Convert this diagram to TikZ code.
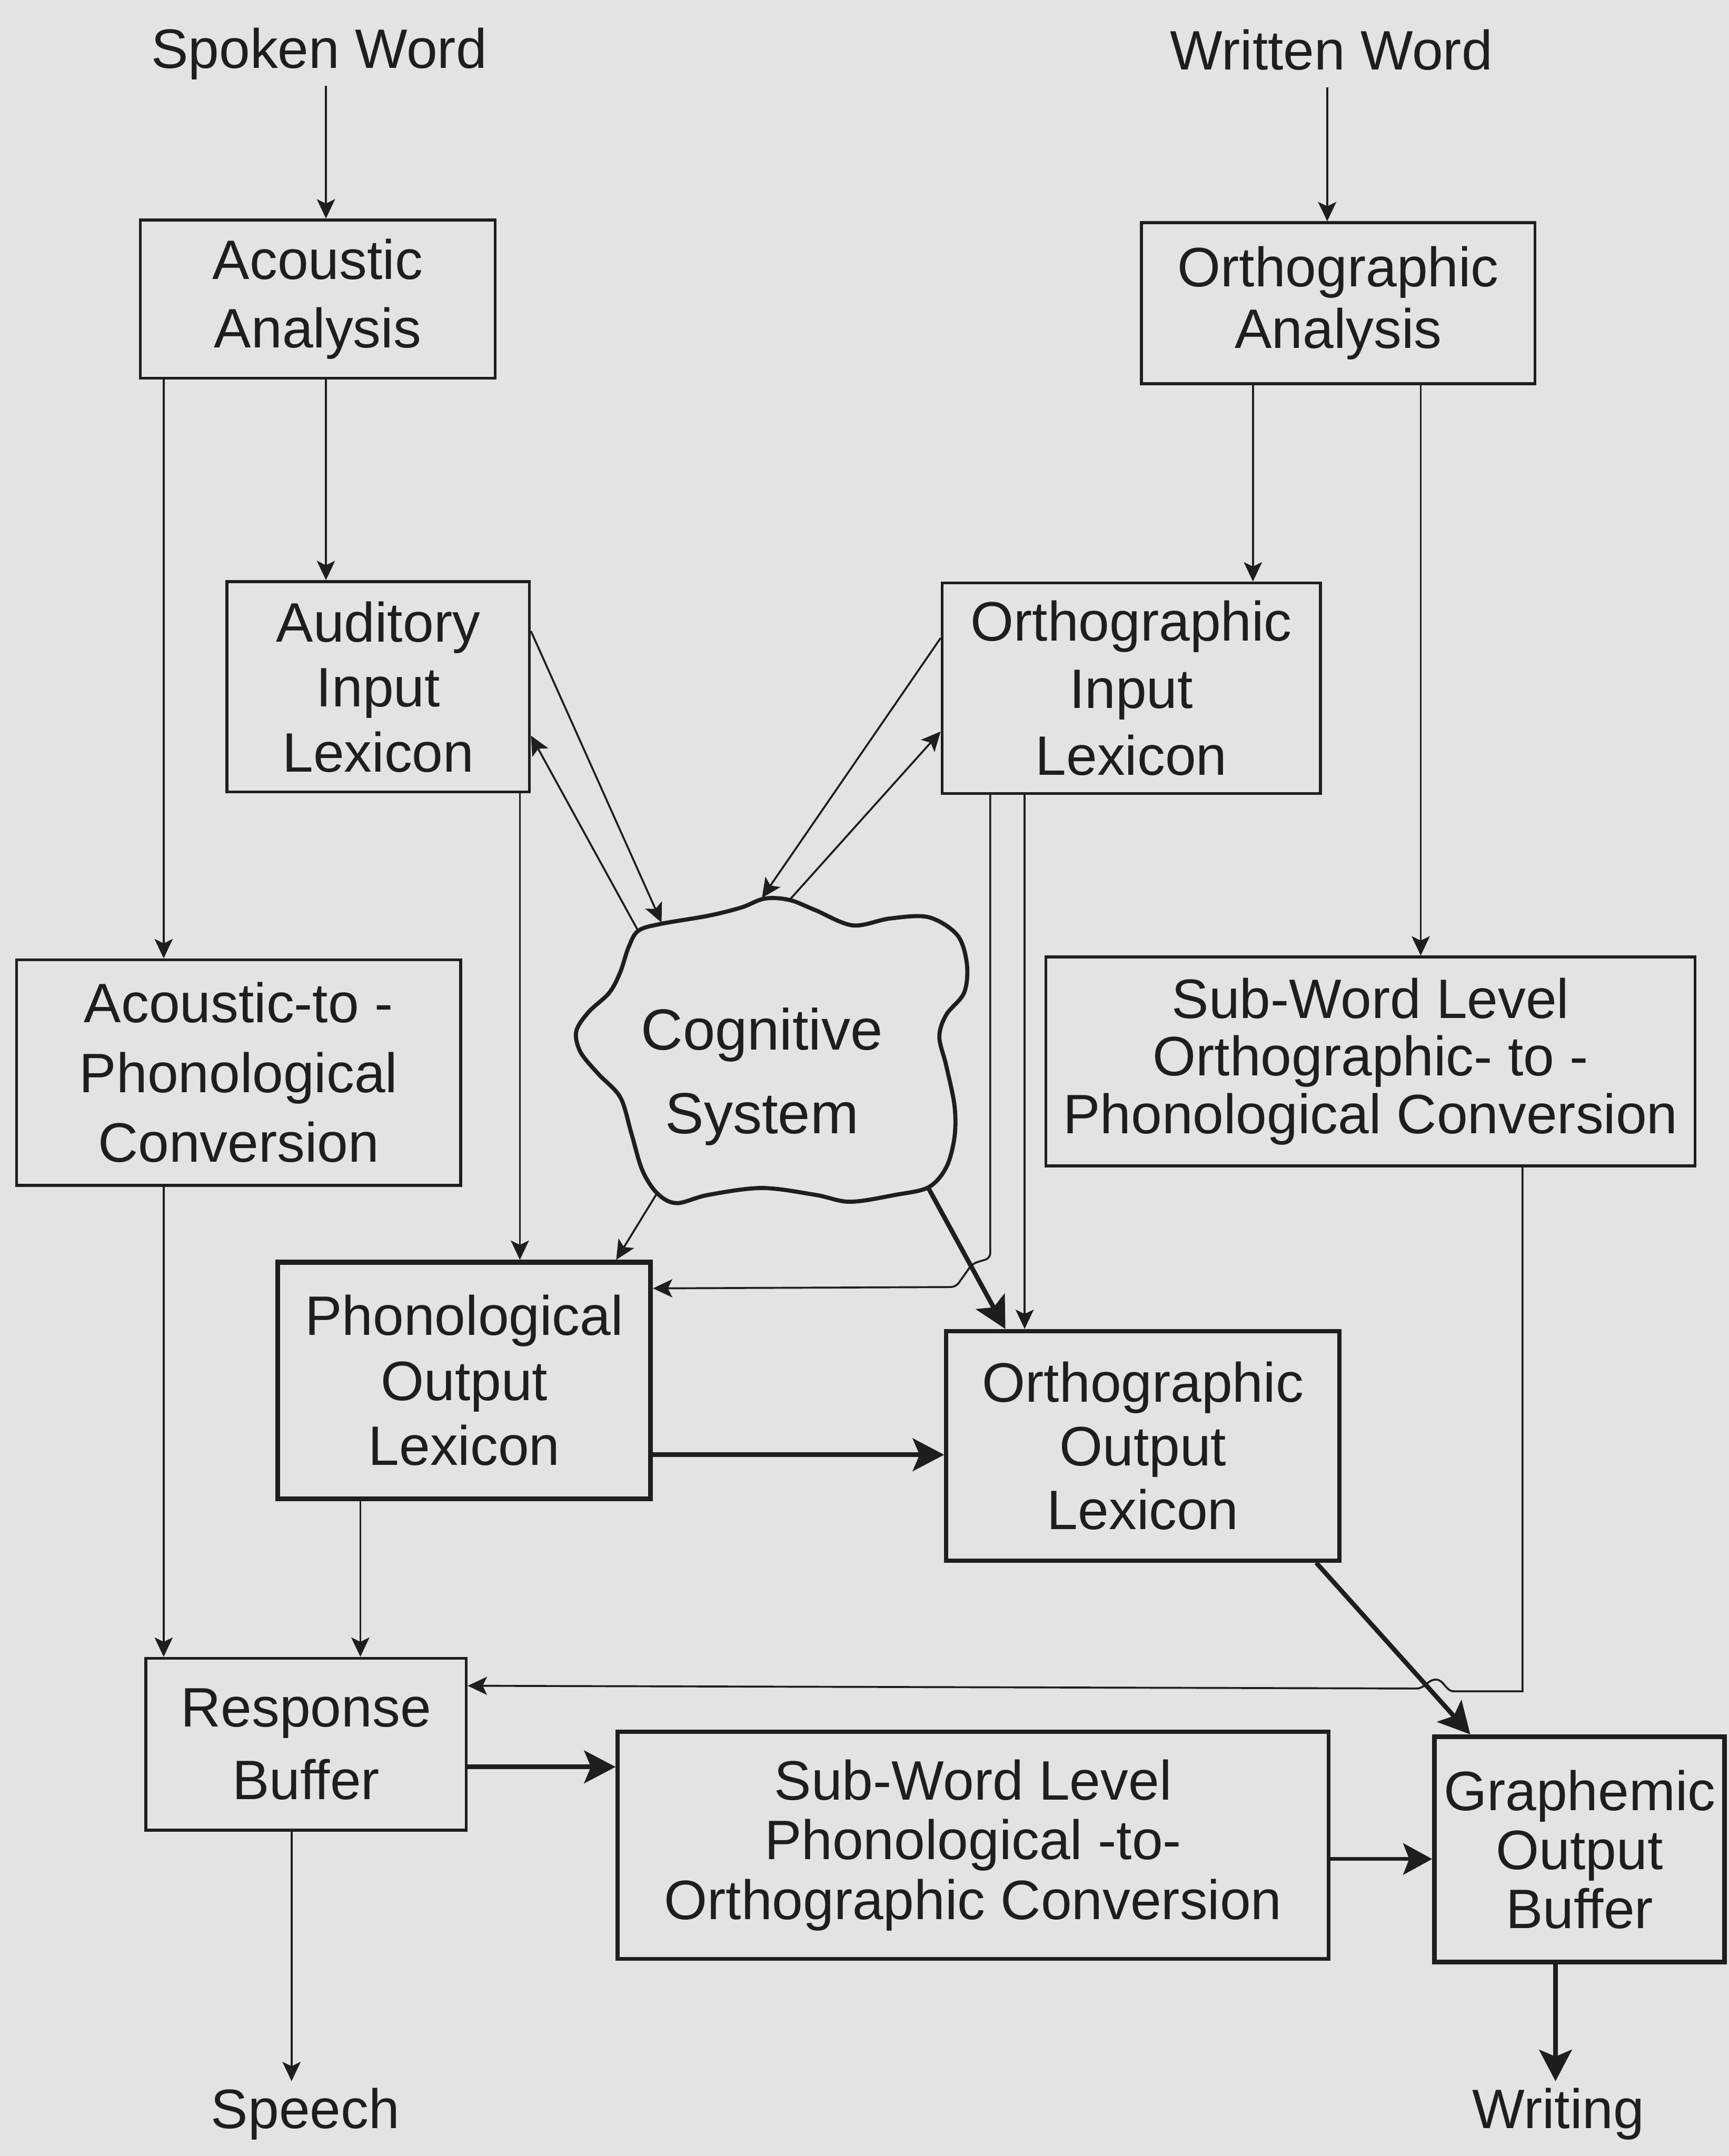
\documentclass[tikz,border=0pt]{standalone}
\usepackage{fontspec}
\setmainfont{Liberation Sans}
\usetikzlibrary{arrows.meta}

\definecolor{paper}{HTML}{E3E3E3}
\definecolor{ink}{HTML}{1E1E1E}

\tikzset{
  txt/.style 2 args={font=\fontsize{#1}{#2}\selectfont},
  box/.style={draw=ink, rectangle, inner sep=0pt, align=center, line width=1.2pt},
  sz/.style 2 args={minimum width=#1*0.02cm, minimum height=#2*0.02cm},
  term/.style={inner sep=2pt, text height=17.25pt, text depth=5pt, font=\fontsize{23}{27}\selectfont},
  conn/.style={draw=ink, line width=0.8pt, -{Stealth[length=8pt,width=7.5pt,inset=1.8pt]}},
  connmid/.style={draw=ink, line width=1.6pt, -{Stealth[length=12pt,width=13pt,inset=2.5pt]}},
  connheavy/.style={draw=ink, line width=1.9pt, -{Stealth[length=13pt,width=13.5pt,inset=2.8pt]}}
}

\begin{document}
\begin{tikzpicture}[x=0.02cm, y=-0.02cm, every node/.style={text=ink}]
% paper
\fill[paper] (0,0) rectangle (1257,1568);
\useasboundingbox (0,0) rectangle (1257,1568);

% input and output words
\node[term] (spoken)  at (232,39)   {Spoken Word};
\node[term] (written) at (968,40)   {Written Word};
\node[term] (speech)  at (222,1537) {Speech};
\node[term] (writing) at (1133,1537){Writing};

% processing modules
\node[box, sz={258}{115}, txt={23}{28.3}] (aa)  at (231,217.5) {Acoustic\\Analysis};
\node[box, sz={286}{117}, txt={23}{25.5}] (oa)  at (973,220.5) {Orthographic\\Analysis};
\node[box, sz={220}{153}, txt={23}{26.9}] (ail) at (275,499.5) {Auditory\\Input\\Lexicon};
\node[box, sz={275}{153}, txt={23}{27.8}] (oil) at (822.5,500.5) {Orthographic\\Input\\Lexicon};
\node[box, sz={323}{164}, txt={23}{28.9}] (apc) at (173.5,780) {Acoustic-to -\\Phonological\\Conversion};
\node[box, sz={472}{152}, txt={23}{23.8}] (swo) at (996.5,772) {Sub-Word Level\\Orthographic- to -\\Phonological Conversion};
\node[box, line width=2pt, sz={271}{172}, txt={23}{26.9}] (pol) at (337.5,1004) {Phonological\\Output\\Lexicon};
\node[box, line width=1.7pt, sz={286}{167}, txt={23}{26.4}] (ool) at (831,1051.5) {Orthographic\\Output\\Lexicon};
\node[box, sz={233}{125}, txt={23}{30}] (rb)  at (222.5,1268.5) {Response\\Buffer};
\node[box, line width=1.6pt, sz={517}{165}, txt={23}{24.7}] (spo) at (707.5,1342) {Sub-Word Level\\Phonological -to-\\Orthographic Conversion};
\node[box, line width=1.9pt, sz={211}{164}, txt={23}{24.4}] (gob) at (1148.5,1345) {Graphemic\\Output\\Buffer};

% cognitive system cloud
\draw[ink, line width=1.7pt] plot[smooth cycle, tension=0.55] coordinates {
  (464,677) (480,672) (515,666) (539,660) (556,653.5) (574,654.5) (593,662)
  (620,673) (647,668) (675,667) (696,680) (703,701) (701,722) (688,738)
  (683,754) (688,775) (694,804) (694,827) (688,849) (675,863.5) (651,869)
  (618,874) (593,869) (554,864) (515,869) (492,875) (478,868) (467,851)
  (459,824) (451,798) (435,781) (422,765) (419,750) (428,736) (443,722)
  (451,707) (457,689)};
\node[txt={24}{34.7}, align=center] (cog) at (554,783) {Cognitive\\System};

% connector columns and rows
\coordinate (c1) at (237,0);
\coordinate (c2) at (965,0);
\coordinate (c3) at (119,0);
\coordinate (c4) at (911,0);
\coordinate (c5) at (1033,0);
\coordinate (c6) at (378,0);
\coordinate (c7) at (720,0);
\coordinate (c8) at (745,0);
\coordinate (c9) at (262,0);
\coordinate (c10) at (1107,0);
\coordinate (c11) at (212,0);
\coordinate (c12) at (1131,0);
\coordinate (c448) at (448,0);
\coordinate (c730) at (731,0);
\coordinate (c957) at (957,0);
\coordinate (c1069) at (1069,0);
\coordinate (r1) at (0,1058);
\coordinate (r2) at (0,1285);
\coordinate (r3) at (0,1352);
\coordinate (r4) at (0,937);
\coordinate (r5) at (0,1226);
\coordinate (r459) at (0,459);
\coordinate (r535) at (0,535);
\coordinate (r464) at (0,464);
\coordinate (r532) at (0,532);

% points on the cloud outline
\coordinate (cogT1) at (481,671);
\coordinate (cogT2) at (464,677);
\coordinate (cogT3) at (554,653);
\coordinate (cogT4) at (574.5,654);
\coordinate (cogB1) at (477,869);
\coordinate (cogB2) at (675,864);

% vertical routes
\draw[conn] (spoken.south -| c1) -- (aa.north -| c1);
\draw[conn] (written.south -| c2) -- (oa.north -| c2);
\draw[conn] (aa.south -| c1) -- (ail.north -| c1);
\draw[conn] (aa.south -| c3) -- (apc.north -| c3);
\draw[conn] (oa.south -| c4) -- (oil.north -| c4);
\draw[conn] (oa.south -| c5) -- (swo.north -| c5);
\draw[conn] (ail.south -| c6) -- (pol.north -| c6);
\draw[conn] (oil.south -| c8) -- (ool.north -| c8);
\draw[conn] (pol.south -| c9) -- (rb.north -| c9);
\draw[conn] (apc.south -| c3) -- (rb.north -| c3);
\draw[conn] (rb.south -| c11) -- (speech.north -| c11);
\draw[connheavy] (gob.south -| c12) -- (writing.north -| c12);

% horizontal routes
\draw[connheavy] (pol.east |- r1) -- (ool.west |- r1);
\draw[connheavy] (rb.east |- r2) -- (spo.west |- r2);
\draw[connmid] (spo.east |- r3) -- (gob.west |- r3);

% links with the cognitive system
\draw[conn] (ail.east |- r459) -- (cogT1);
\draw[conn] (cogT2) -- (ail.east |- r535);
\draw[conn] (oil.west |- r464) -- (cogT3);
\draw[conn] (cogT4) -- (oil.west |- r532);
\draw[conn] (cogB1) -- (pol.north -| c448);
\draw[connheavy] (cogB2) -- (ool.north -| c730);

% lexical spelling to the graphemic buffer
\draw[connheavy] (ool.south -| c957) -- (gob.north -| c1069);

% routes that jog across other lines
\draw[conn, rounded corners=2pt] (oil.south -| c7) -- (720,915) -- (707,919) -- (695,936) -- (pol.east |- r4);
\draw[conn] (swo.south -| c10) -- (1107,1230) -- (1057,1230)
  .. controls (1051,1230) and (1050,1221.5) .. (1044,1221.5)
  .. controls (1038,1221.5) and (1036,1228) .. (1030,1228)
  -- (rb.east |- r5);
\end{tikzpicture}
\end{document}
